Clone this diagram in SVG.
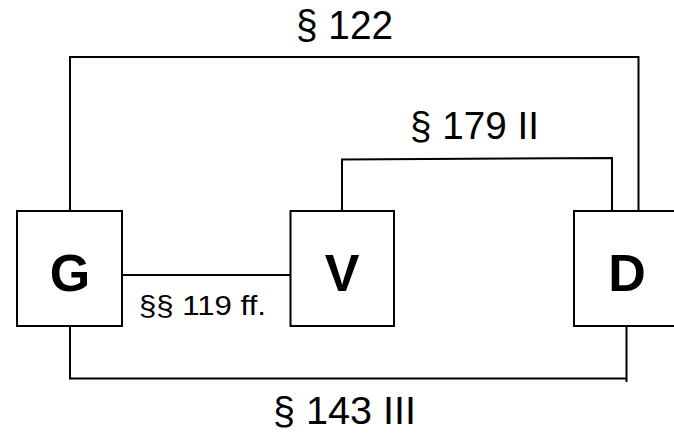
<svg xmlns="http://www.w3.org/2000/svg" width="674" height="436" viewBox="0 0 674 436">
<style>
.box{fill:#fff;stroke:#000;stroke-width:2}
.ln{fill:none;stroke:#000;stroke-width:2}
.lbl{font-family:"Liberation Sans",Arial,sans-serif;fill:#000}
.nd{font-family:"Liberation Sans",Arial,sans-serif;font-weight:bold;font-size:52px;fill:#000;text-anchor:middle}
</style>
<rect width="674" height="436" fill="#fff"/>
<g id="connectors">
<path class="ln" d="M70,211 V57 H638.5 V211"/>
<path class="ln" d="M342,211 V159.5 L612,158 V211"/>
<path class="ln" d="M122,275 H290"/>
<path class="ln" d="M70,326 V378.5 H626.5 M626.5,326 V382"/>
<text class="lbl" x="296" y="39" font-size="40" textLength="97" lengthAdjust="spacingAndGlyphs">§ 122</text>
<text class="lbl" x="410" y="139" font-size="38" textLength="129" lengthAdjust="spacingAndGlyphs">§ 179 II</text>
<text class="lbl" x="139" y="315" font-size="28" textLength="127" lengthAdjust="spacingAndGlyphs">§§ 119 ff.</text>
<text class="lbl" x="273" y="424" font-size="39" textLength="143" lengthAdjust="spacingAndGlyphs">§ 143 III</text>
</g>
<g id="node-G">
<rect class="box" x="17" y="211" width="105" height="115"/>
<text class="nd" x="70" y="291">G</text>
</g>
<g id="node-V">
<rect class="box" x="290.5" y="211" width="103.5" height="115"/>
<text class="nd" x="342" y="291">V</text>
</g>
<g id="node-D">
<rect class="box" x="574" y="211" width="106" height="115"/>
<text class="nd" x="627" y="291">D</text>
</g>
</svg>
